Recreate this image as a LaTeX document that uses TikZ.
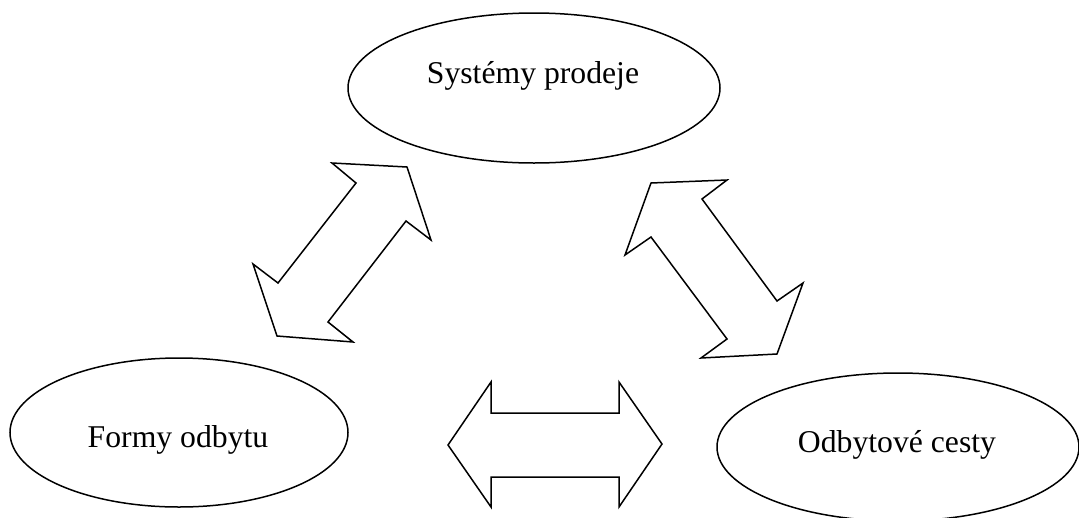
\documentclass[tikz,border=0pt]{standalone}
\usepackage{fontspec}
\setmainfont{Liberation Serif}
\usetikzlibrary{shapes.geometric}
\begin{document}
\begin{tikzpicture}[x=1pt,y=-1pt,
  oval/.style={draw,ellipse,line width=1.5pt,inner sep=0pt},
  lbl/.style={anchor=base,inner sep=0pt,font=\fontsize{31.7}{38}\selectfont},
  blockarrow/.style={draw,line width=1.5pt,line join=miter,fill=white}]
\useasboundingbox (0,0) rectangle (1079,517);
\clip (0,0) rectangle (1079,517);
% ellipses
\node[oval,minimum width=372pt,minimum height=150pt] (sys) at (534,88) {};
\node[oval,minimum width=338pt,minimum height=149pt] (formy) at (179,432.5) {};
\node[oval,minimum width=362pt,minimum height=148pt] (cesty) at (898,447) {};
% labels
\node[lbl] (tsys) at (533,83) {Systémy prodeje};
\node[lbl] (tformy) at (178,447) {Formy odbytu};
\node[lbl] (tcesty) at (897,452) {Odbytové cesty};
% upper-left double arrow
\draw[blockarrow] (332,163) -- (407,167) -- (431,240) -- (406,221) -- (328,322)
  -- (353,342) -- (277,336) -- (253,264) -- (278,283) -- (356,183) -- cycle;
% upper-right double arrow
\draw[blockarrow] (651,183) -- (727,180) -- (702,199) -- (777,301) -- (803,283)
  -- (777,354) -- (701,358) -- (727,339) -- (651,237) -- (625,255) -- cycle;
% bottom double arrow
\draw[blockarrow] (448,445) -- (491,382) -- (491,413) -- (619,413) -- (619,382)
  -- (662,444) -- (619,507) -- (619,477) -- (491,477) -- (491,507) -- cycle;
\end{tikzpicture}
\end{document}
